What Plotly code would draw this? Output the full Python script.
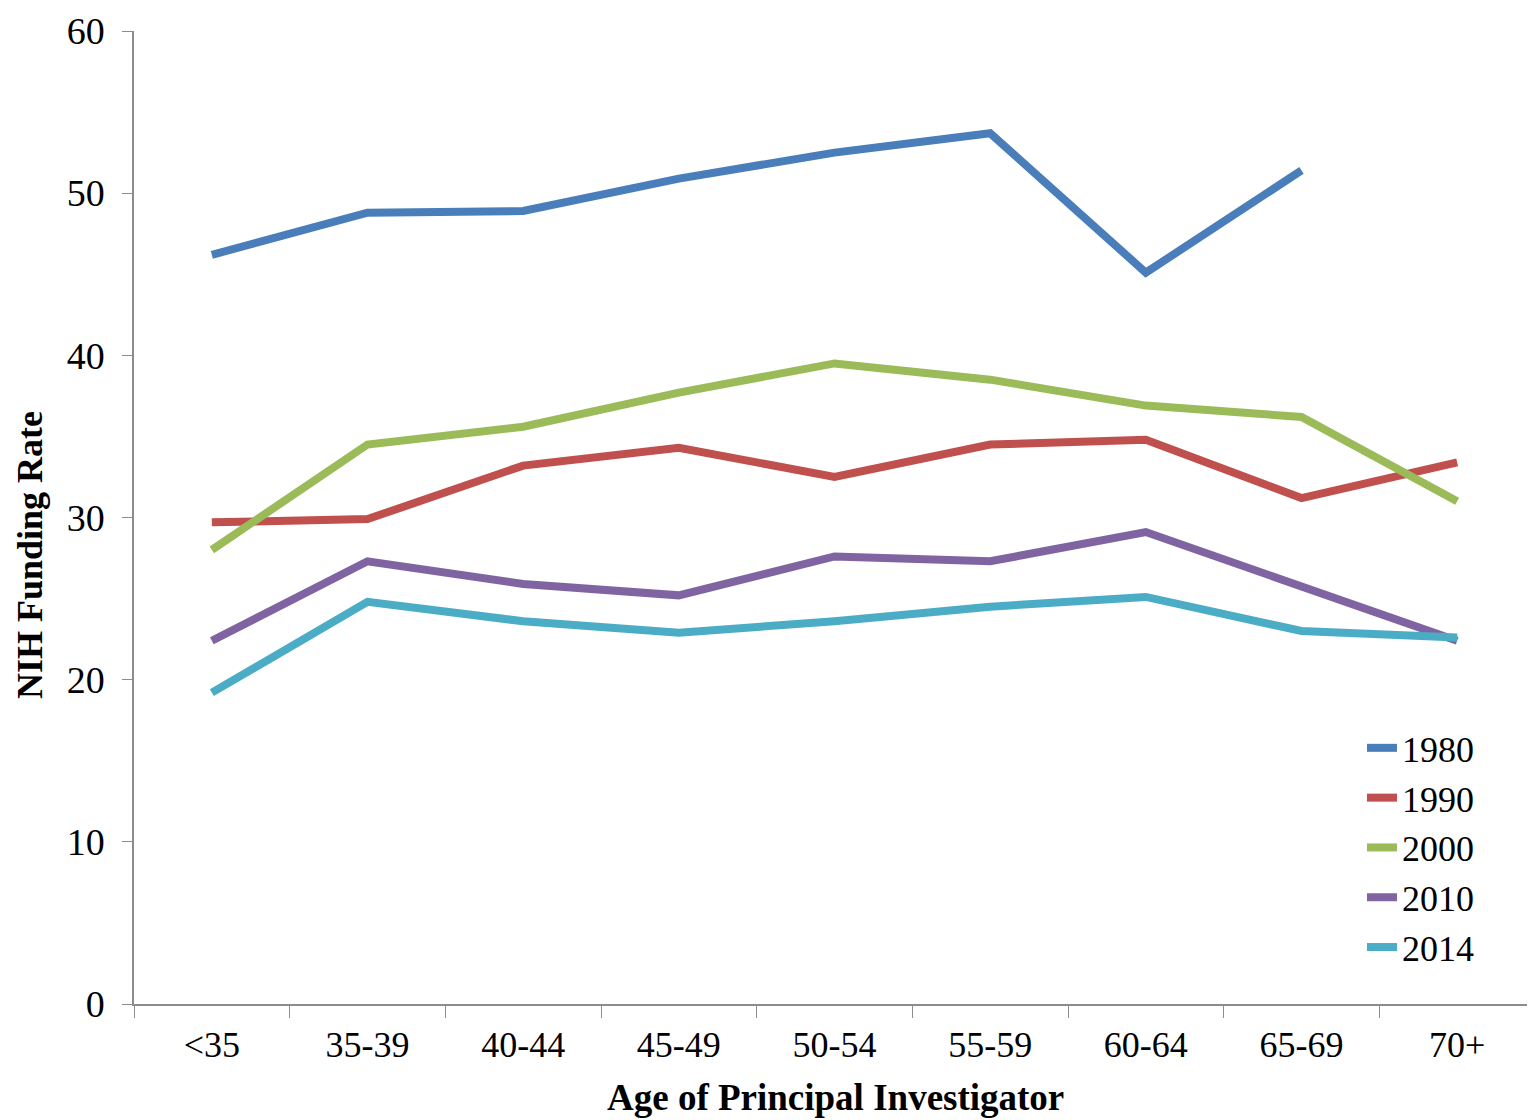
import plotly.graph_objects as go

ages = ["<35", "35-39", "40-44", "45-49", "50-54", "55-59", "60-64", "65-69", "70+"]
y1980 = [46.2, 48.8, 48.9, 50.9, 52.5, 53.7, 45.1, 51.4, None]
y1990 = [29.7, 29.9, 33.2, 34.3, 32.5, 34.5, 34.8, 31.2, 33.4]
y2000 = [28.0, 34.5, 35.6, 37.7, 39.5, 38.5, 36.9, 36.2, 31.0]
y2010 = [22.4, 27.3, 25.9, 25.2, 27.6, 27.3, 29.1, 25.7, 22.4]
y2014 = [19.2, 24.8, 23.6, 22.9, 23.6, 24.5, 25.1, 23.0, 22.6]

series = [
    ("1980", y1980, "#4A7EBB"),
    ("1990", y1990, "#C0504D"),
    ("2000", y2000, "#9BBB59"),
    ("2010", y2010, "#8064A2"),
    ("2014", y2014, "#4BACC6"),
]

FONT = "Liberation Serif"

fig = go.Figure()
for name, vals, color in series:
    fig.add_trace(go.Scatter(
        x=ages, y=vals, name=name, mode="lines",
        line=dict(color=color, width=8),
        connectgaps=False,
    ))

fig.update_layout(
    width=1527, height=1116,
    margin=dict(l=126, r=0, t=23, b=120, autoexpand=False),
    paper_bgcolor="white", plot_bgcolor="white",
    font=dict(family=FONT, color="black"),
    showlegend=True,
    legend=dict(
        x=0.8765, y=0.294, xanchor="left", yanchor="top",
        font=dict(family=FONT, size=36, color="black"),
        bgcolor="rgba(0,0,0,0)", tracegroupgap=0, itemwidth=30,
    ),
    xaxis=dict(
        type="category", range=[-0.5, 8.5], automargin=False,
        showline=True, linecolor="#8C8C8C", linewidth=1.5,
        ticks="outside", tickson="boundaries", ticklen=12, tickcolor="#8C8C8C",
        showgrid=False, zeroline=False, ticklabelstandoff=8,
        tickfont=dict(family=FONT, size=36, color="black"),
    ),
    yaxis=dict(
        range=[0, 60], dtick=10, tick0=0, automargin=False,
        showline=True, linecolor="#8C8C8C", linewidth=1.5,
        ticks="outside", ticklen=10, tickcolor="#8C8C8C",
        showgrid=False, zeroline=False, ticklabelstandoff=10,
        tickfont=dict(family=FONT, size=38, color="black"),
    ),
    annotations=[
        dict(text="<b>Age of Principal Investigator</b>", xref="paper", yref="paper",
             x=0.501, y=-0.0956, xanchor="center", yanchor="middle", showarrow=False,
             font=dict(family=FONT, size=37, color="black")),
        dict(text="<b>NIH Funding Rate</b>", xref="paper", yref="paper",
             x=-0.0742, y=0.4615, xanchor="center", yanchor="middle", showarrow=False,
             textangle=-90, font=dict(family=FONT, size=36, color="black")),
    ],
)

fig.write_html("out.html")
